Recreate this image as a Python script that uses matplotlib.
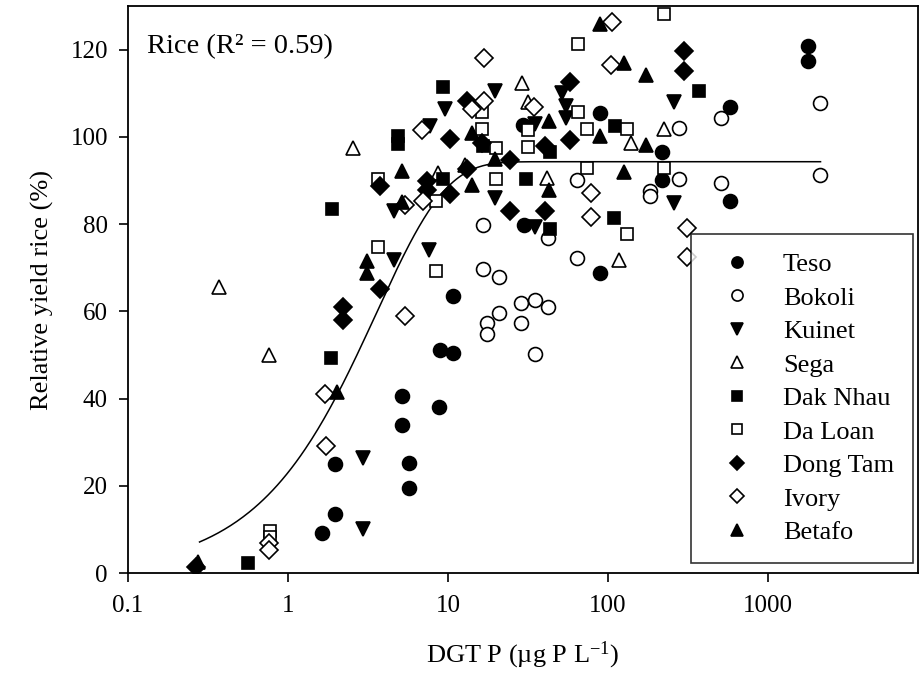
import matplotlib
matplotlib.use('Agg')
import matplotlib.pyplot as plt
import numpy as np

plt.rcParams['font.family'] = ['Liberation Serif', 'DejaVu Serif']
plt.rcParams['mathtext.fontset'] = 'custom'
plt.rcParams['mathtext.rm'] = 'Liberation Serif'
plt.rcParams['mathtext.it'] = 'Liberation Serif:italic'

# DGT P (x) and relative yield (y) per soil
teso_x = [1.64, 1.97, 1.97, 5.14, 5.14, 5.73, 5.73, 8.8, 8.9, 10.8, 10.8,
          29.6, 30.0, 89, 89, 217, 217, 579, 579, 1771, 1771]
teso_y = [9.2, 13.5, 25.0, 40.6, 33.9, 25.2, 19.4, 38.0, 51.1, 50.5, 63.5,
          102.8, 79.7, 105.4, 68.7, 96.6, 90.1, 106.8, 85.4, 120.9, 117.5]

bokoli_x = [16.6, 16.6, 20.9, 17.6, 17.6, 20.9, 28.6, 28.6, 35, 35, 42.4, 42.4,
            63.7, 63.7, 183, 183, 279, 279, 508, 508, 2113, 2113]
bokoli_y = [79.8, 69.7, 67.8, 57.4, 54.7, 59.7, 61.9, 57.3, 62.5, 50.2, 60.9, 76.8,
            72.3, 90.1, 87.5, 86.4, 102.0, 90.3, 104.3, 89.5, 107.7, 91.3]

kuinet_x = [2.96, 2.96, 4.6, 4.6, 7.6, 7.7, 9.6, 19.6, 19.6, 35, 35,
            51.8, 54.4, 54.4, 258, 258]
kuinet_y = [26.3, 10.2, 82.9, 71.8, 74.1, 102.4, 106.4, 110.4, 86.0, 103.0, 79.4,
            110.0, 107.1, 104.3, 108.1, 84.9]

sega_x = [0.37, 0.76, 2.56, 8.6, 12.8, 29.1, 31.8, 41.4, 117.7, 139, 224]
sega_y = [65.5, 50.0, 97.4, 91.8, 93.5, 112.3, 108.1, 90.5, 71.8, 98.6, 101.8]

daknhau_x = [0.565, 1.86, 1.88, 4.85, 4.85, 9.27, 9.3, 16.6, 30.7, 43.4, 43.4,
             109.6, 110.6, 372]
daknhau_y = [2.4, 49.2, 83.4, 100.2, 98.4, 111.4, 90.4, 97.9, 90.4, 96.5, 78.8,
             81.5, 102.5, 110.4]

daloan_x = [0.77, 0.77, 3.67, 3.67, 8.4, 8.4, 16.2, 16.2, 20, 20, 31.8, 31.8,
            65.3, 65.3, 74.3, 74.3, 131, 131, 224, 224]
daloan_y = [9.7, 8.2, 90.3, 74.8, 85.2, 69.3, 105.8, 101.7, 97.4, 90.4, 101.5, 97.6,
            121.3, 105.8, 101.8, 92.8, 101.8, 77.8, 128.2, 92.8]

dongtam_x = [0.266, 2.2, 2.2, 3.76, 3.76, 7.36, 7.36, 10.3, 10.3, 13.1, 13.1,
             16.4, 24.4, 24.4, 40.4, 40.4, 57.9, 57.9, 298, 298]
dongtam_y = [1.4, 60.9, 57.9, 88.7, 65.1, 89.9, 87.8, 99.6, 86.9, 108.3, 92.6,
             98.7, 94.7, 83.0, 97.8, 82.9, 112.5, 99.3, 119.6, 115.2]

ivory_x = [0.76, 0.76, 1.70, 1.72, 5.38, 5.38, 6.9, 7.0, 14.1, 16.8, 16.9,
           34.5, 78, 78, 105, 105.4, 310, 310]
ivory_y = [6.8, 5.3, 41.1, 29.1, 84.3, 58.9, 101.6, 85.2, 106.4, 108.3, 118.0,
           106.8, 87.1, 81.7, 116.5, 126.3, 79.1, 72.5]

betafo_x = [0.275, 2.01, 3.12, 3.12, 5.18, 5.18, 14.1, 14.2, 19.7, 42.7, 42.7,
            89, 89, 126, 126, 172, 172]
betafo_y = [2.6, 41.6, 71.6, 68.8, 92.2, 85.0, 100.8, 88.9, 94.9, 103.7, 87.7,
            125.9, 100.2, 116.9, 92.0, 114.2, 98.2]

# Fitted curve
fit_plateau = 94.3
fit_rate = 0.28
fit_xmin, fit_xmax = 0.28, 2130

x_ticks = [0.1, 1, 10, 100, 1000]
x_ticklabels = ['0.1', '1', '10', '100', '1000']
y_ticks = [0, 20, 40, 60, 80, 100, 120]

series = [
    ('Teso', teso_x, teso_y, 'o', True),
    ('Bokoli', bokoli_x, bokoli_y, 'o', False),
    ('Kuinet', kuinet_x, kuinet_y, 'v', True),
    ('Sega', sega_x, sega_y, '^', False),
    ('Dak Nhau', daknhau_x, daknhau_y, 's', True),
    ('Da Loan', daloan_x, daloan_y, 's', False),
    ('Dong Tam', dongtam_x, dongtam_y, 'D', True),
    ('Ivory', ivory_x, ivory_y, 'D', False),
    ('Betafo', betafo_x, betafo_y, '^', True),
]
msize = {'o': 10, 'v': 10, '^': 10, 's': 8.5, 'D': 8.8}

fig = plt.figure(figsize=(9.19, 6.78), dpi=100)
ax = fig.add_axes([128 / 919, 1 - 573 / 678, (917.5 - 128) / 919, (573 - 6) / 678])

for name, xs, ys, mk, filled in series:
    ax.plot(xs, ys, linestyle='none', marker=mk, markersize=msize[mk],
            markerfacecolor='black' if filled else 'white',
            markeredgecolor='black', markeredgewidth=1.2, label=name)

xf = np.logspace(np.log10(fit_xmin), np.log10(fit_xmax), 400)
ax.plot(xf, fit_plateau * (1 - np.exp(-fit_rate * xf)), color='black', lw=1.1, zorder=1)

ax.set_xscale('log')
ax.set_xlim(0.1, 8600)
ax.set_ylim(0, 130)
ax.minorticks_off()
ax.set_xticks(x_ticks)
ax.set_xticklabels(x_ticklabels)
ax.set_yticks(y_ticks)
ax.tick_params(direction='out', length=6.5, width=1.2, labelsize=18,
               top=False, right=False)
ax.tick_params(axis='x', pad=9)
ax.tick_params(axis='y', pad=8)
for s in ax.spines.values():
    s.set_linewidth(1.3)

ax.set_xlabel('DGT P (µg P L$^{\\mathregular{-1}}$)', fontsize=19, labelpad=17)
ax.set_ylabel('Relative yield rice (%)', fontsize=19, labelpad=12)

ax.text(0.024, 0.95, 'Rice (R² = 0.59)', transform=ax.transAxes,
        fontsize=20.5, va='top', ha='left')

leg = ax.legend(loc='lower right', bbox_to_anchor=(0.9943, 0.0176), fontsize=19,
                frameon=True, fancybox=False, edgecolor='black', markerscale=0.8,
                handlelength=2.05, handletextpad=0.72, labelspacing=0.38,
                borderpad=0.72, borderaxespad=0)
leg.get_frame().set_linewidth(1.2)

fig.savefig('out.png', dpi=100)
